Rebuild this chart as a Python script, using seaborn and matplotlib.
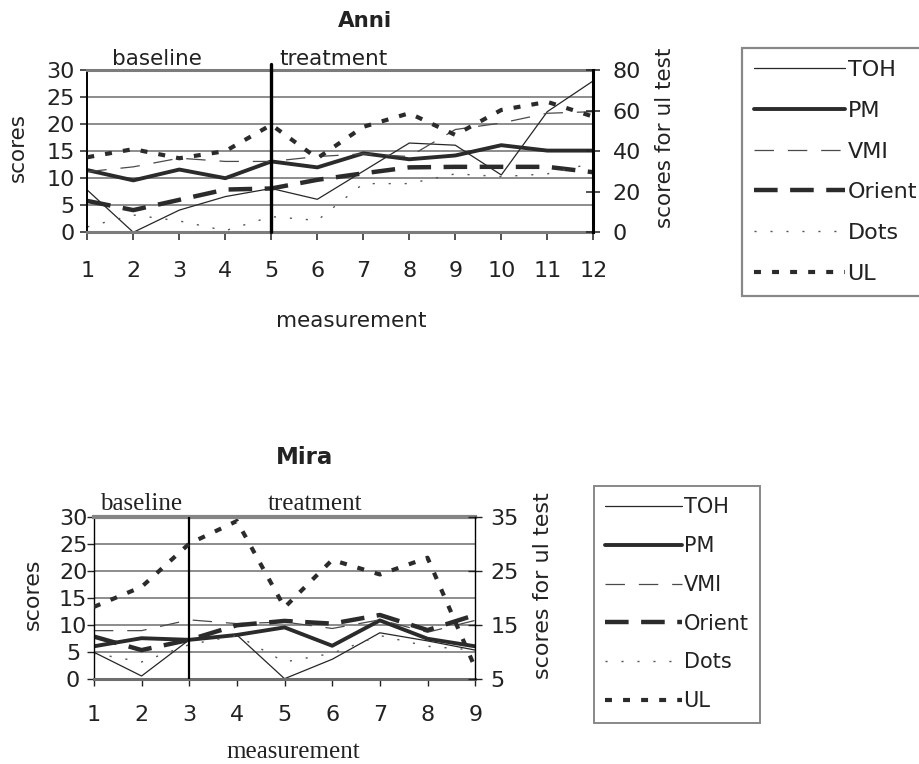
import matplotlib
matplotlib.use("Agg")
import matplotlib.pyplot as plt
import pandas as pd
import seaborn as sns

sns.set_theme(style="ticks")
plt.rcParams['font.family'] = ['DejaVu Sans']
plt.rcParams['lines.scale_dashes'] = False

# ---- Anni: 12 measurements (baseline 1-5, treatment 5-12) ----
anni_measurement = list(range(1, 13))
anni_toh = [7.8, 0.0, 4.1, 6.6, 8.1, 6.1, 11.3, 16.5, 16.1, 10.6, 22.3, 28.0]
anni_pm = [11.5, 9.6, 11.6, 10.0, 13.1, 12.0, 14.6, 13.5, 14.2, 16.1, 15.1, 15.1]
anni_vmi = [11.2, 12.1, 13.7, 13.1, 13.1, 14.0, 14.5, 14.0, 19.0, 20.2, 22.0, 22.3]
anni_orient = [5.8, 4.1, 6.0, 7.9, 8.1, 9.7, 10.9, 12.0, 12.1, 12.1, 12.1, 11.1]
anni_dots = [1.0, 3.2, 2.1, 0.3, 2.9, 2.2, 9.0, 9.0, 10.8, 10.3, 10.8, 12.8]
anni_ul = [37.0, 41.0, 36.5, 40.0, 53.0, 36.5, 52.0, 58.7, 48.0, 60.3, 64.3, 57.0]

# ---- Mira: 9 measurements (baseline 1-3, treatment 3-9) ----
mira_measurement = list(range(1, 10))
mira_toh = [4.9, 0.5, 7.2, 8.1, 0.0, 3.6, 8.5, 7.0, 5.3]
mira_pm = [6.0, 7.5, 7.2, 8.1, 9.5, 6.1, 10.8, 7.4, 6.0]
mira_vmi = [8.9, 8.9, 10.9, 10.2, 10.5, 9.3, 10.9, 8.6, 10.8]
mira_orient = [7.8, 5.3, 7.2, 9.9, 10.7, 10.2, 11.8, 9.0, 11.8]
mira_dots = [4.7, 3.1, 6.3, 8.0, 3.1, 4.7, 8.0, 6.0, 5.3]
mira_ul = [18.3, 22.0, 30.0, 34.2, 18.2, 27.0, 24.3, 27.4, 7.0]

series_names = ["TOH", "PM", "VMI", "Orient", "Dots", "UL"]

INK = "#222222"
styles = {
    "TOH": dict(color="#262626", linewidth=0.9, linestyle="-"),
    "PM": dict(color="#2b2b2b", linewidth=2.8, linestyle="-"),
    "VMI": dict(color="#4a4a4a", linewidth=0.9, linestyle=(0, (14, 10))),
    "Orient": dict(color="#2b2b2b", linewidth=3.2, linestyle=(0, (17, 9))),
    "Dots": dict(color="#555555", linewidth=1.0, linestyle=(0, (1.5, 10))),
    "UL": dict(color="#2b2b2b", linewidth=3.0, linestyle=(0, (5, 8))),
}

W, H = 920, 764
fig = plt.figure(figsize=(W / 100, H / 100), dpi=100)


def fx(px):
    return px / W


def fy(py):
    return 1 - py / H


def panel(box, x, values, ul, ul_lim, ul_ticks):
    left, top, right, bottom = box
    ax = fig.add_axes([fx(left), fy(bottom), fx(right - left), (bottom - top) / H])
    ax2 = ax.twinx()

    handles = []
    for name in series_names[:-1]:
        df = pd.DataFrame({"measurement": x, "score": values[name]})
        sns.lineplot(data=df, x="measurement", y="score", ax=ax, errorbar=None,
                     legend=False, **styles[name])
        handles.append(ax.lines[-1])
    df = pd.DataFrame({"measurement": x, "score": ul})
    sns.lineplot(data=df, x="measurement", y="score", ax=ax2, errorbar=None,
                 legend=False, **styles["UL"])
    handles.append(ax2.lines[-1])

    ax.set_xlim(x[0], x[-1])
    ax.set_ylim(0, 30)
    ax.set_yticks(range(0, 31, 5))
    ax.set_xticks(x)
    ax2.set_ylim(*ul_lim)
    ax2.set_yticks(ul_ticks)
    ax.set_xlabel("")
    ax.set_ylabel("")
    ax2.set_ylabel("")

    ax.yaxis.grid(True, color="#6e6e6e", linewidth=1.1)
    ax.set_axisbelow(True)
    return ax, ax2, handles


# ================= Anni =================
anni_vals = dict(TOH=anni_toh, PM=anni_pm, VMI=anni_vmi, Orient=anni_orient, Dots=anni_dots)
ax, ax2, handles = panel((87.3, 70, 593.3, 232.3), anni_measurement, anni_vals,
                         anni_ul, (0, 80), [0, 20, 40, 60, 80])

ax.axvline(5, ymin=0, ymax=1.04, color="black", linewidth=2.4, clip_on=False, zorder=5)
for s in ["top", "bottom"]:
    ax.spines[s].set_color("#7c7c7c")
    ax.spines[s].set_linewidth(2.2)
ax.spines["left"].set_color("black")
ax.spines["left"].set_linewidth(1.4)
ax.spines["right"].set_visible(False)
for s in ["top", "bottom", "left"]:
    ax2.spines[s].set_visible(False)
ax2.spines["right"].set_color("black")
ax2.spines["right"].set_linewidth(2.2)

ax.tick_params(axis="x", direction="out", length=6, width=1.1, pad=15,
               labelsize=16, colors=INK)
ax.tick_params(axis="y", direction="out", length=5, width=1.1, pad=4,
               labelsize=16, colors=INK)
ax2.tick_params(axis="y", direction="inout", length=10, width=1.1, pad=9,
                labelsize=16, colors=INK)

fig.text(fx(365), fy(21), "Anni", ha="center", va="center", fontsize=15.5,
         fontweight="bold", color=INK)
fig.text(fx(157), fy(59), "baseline", ha="center", va="center", fontsize=15.5, color=INK)
fig.text(fx(333), fy(59), "treatment", ha="center", va="center", fontsize=15.5, color=INK)
fig.text(fx(351), fy(321), "measurement", ha="center", va="center", fontsize=15.5, color=INK)
fig.text(fx(18), fy(147), "scores", ha="center", va="center", rotation=90,
         fontsize=15.5, color=INK)
fig.text(fx(665), fy(138), "scores for ul test", ha="center", va="center", rotation=90,
         fontsize=15.5, color=INK)

leg = fig.legend(handles, series_names, loc="upper left",
                 bbox_to_anchor=(fx(742), fy(48)), frameon=True, fancybox=False,
                 edgecolor="#6a6a6a", fontsize=16, handlelength=4.1,
                 handletextpad=0.1, labelspacing=0.93, borderpad=0.55,
                 borderaxespad=0)
leg.get_frame().set_linewidth(1.6)
for t in leg.get_texts():
    t.set_color(INK)

# ================= Mira =================
mira_vals = dict(TOH=mira_toh, PM=mira_pm, VMI=mira_vmi, Orient=mira_orient, Dots=mira_dots)
bx, bx2, handles_m = panel((93.9, 516.7, 475.2, 678.7), mira_measurement, mira_vals,
                           mira_ul, (5, 35), [5, 15, 25, 35])

bx.axvline(3, color="black", linewidth=1.6, zorder=5)
bx.spines["top"].set_color("#858585")
bx.spines["top"].set_linewidth(3.0)
bx.spines["bottom"].set_color("#6e6e6e")
bx.spines["bottom"].set_linewidth(2.2)
bx.spines["left"].set_color("black")
bx.spines["left"].set_linewidth(1.0)
bx.spines["right"].set_visible(False)
for s in ["top", "bottom", "left"]:
    bx2.spines[s].set_visible(False)
bx2.spines["right"].set_color("black")
bx2.spines["right"].set_linewidth(1.0)

bx.tick_params(axis="x", direction="out", length=5, width=1.0, pad=14,
               labelsize=16, colors=INK)
bx.tick_params(axis="y", direction="out", length=5, width=1.0, pad=10,
               labelsize=16, colors=INK)
for lab in bx.get_yticklabels():
    lab.set_horizontalalignment("center")
bx2.tick_params(axis="y", direction="inout", length=10, width=1.0, pad=6,
                labelsize=16, colors=INK)

serif = ["Liberation Serif", "DejaVu Serif"]
fig.text(fx(305), fy(457), "Mira", ha="center", va="center", fontsize=16.5,
         fontweight="bold", color=INK)
fig.text(fx(141), fy(504), "baseline", ha="center", va="center", fontsize=18,
         family=serif, color=INK)
fig.text(fx(315), fy(504), "treatment", ha="center", va="center", fontsize=18,
         family=serif, color=INK)
fig.text(fx(293), fy(752), "measurement", ha="center", va="center", fontsize=18,
         family=serif, color=INK)
fig.text(fx(33), fy(594), "scores", ha="center", va="center", rotation=90,
         fontsize=16, color=INK)
fig.text(fx(543), fy(586), "scores for ul test", ha="center", va="center", rotation=90,
         fontsize=16, color=INK)

leg2 = fig.legend(handles_m, series_names, loc="upper left",
                  bbox_to_anchor=(fx(594), fy(486)), frameon=True, fancybox=False,
                  edgecolor="#6a6a6a", fontsize=15, handlelength=3.65,
                  handletextpad=0.1, labelspacing=0.9, borderpad=0.55,
                  borderaxespad=0)
leg2.get_frame().set_linewidth(1.4)
for t in leg2.get_texts():
    t.set_color(INK)

fig.savefig("out.png", dpi=100, facecolor="white")
